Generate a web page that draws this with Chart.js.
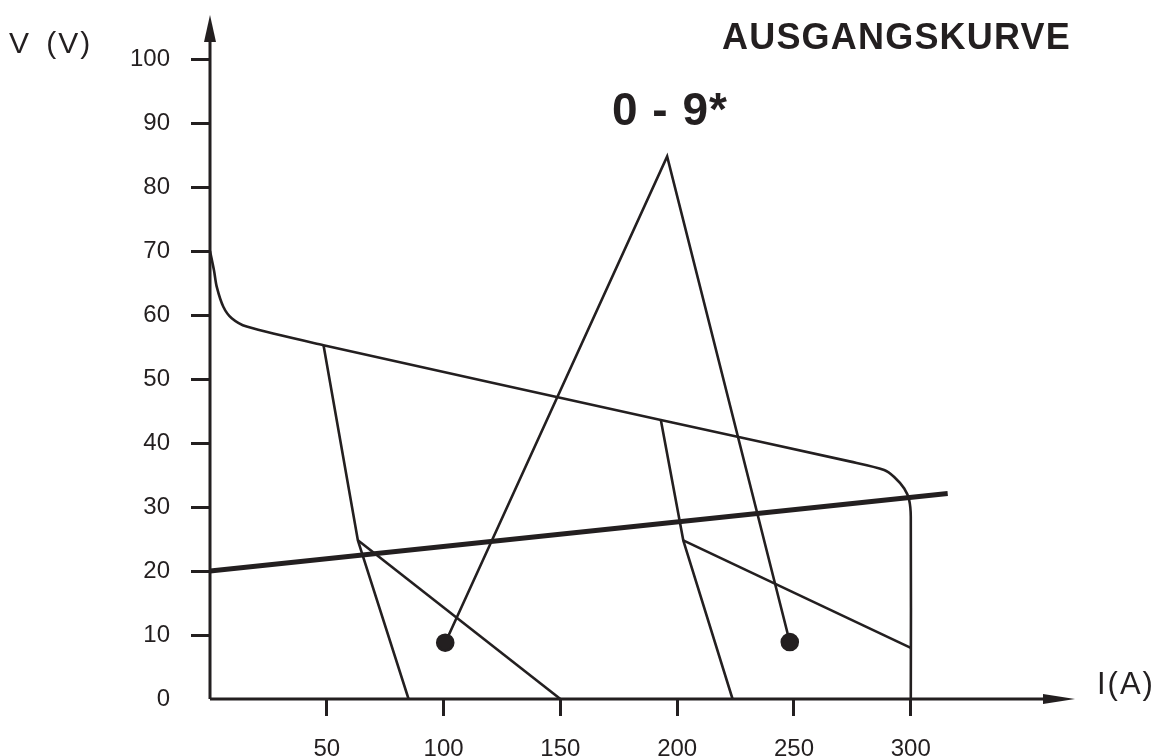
<!DOCTYPE html>
<html lang="de">
<head>
<meta charset="utf-8">
<title>Ausgangskurve</title>
<script src="https://cdn.jsdelivr.net/npm/chart.js@4.4.1/dist/chart.umd.min.js"></script>
<style>
  html, body { margin: 0; padding: 0; background: #fff; }
  #wrap { position: relative; width: 1159px; height: 756px; font-family: "Liberation Sans", Arial, sans-serif; color: #231f20; }
  #wrap canvas { position: absolute; left: 0; top: 0; }
  .lbl { position: absolute; white-space: pre; line-height: 1; }
  #yTitle { left: 9px; top: 28px; font-size: 30px; word-spacing: 5px; letter-spacing: 2px; }
  #xTitle { left: 1097px; top: 668px; font-size: 31px; letter-spacing: 2px; }
  #title { left: 722px; top: 19px; font-size: 36px; font-weight: bold; letter-spacing: 1.2px; }
  #sub { left: 612px; top: 86px; font-size: 46px; font-weight: bold; letter-spacing: 1px; }
</style>
</head>
<body>
<div id="wrap">
  <canvas id="chart" width="1159" height="756"></canvas>
  <div class="lbl" id="yTitle">V (V)</div>
  <div class="lbl" id="xTitle">I(A)</div>
  <div class="lbl" id="title">AUSGANGSKURVE</div>
  <div class="lbl" id="sub">0 - 9*</div>
</div>
<script>
const INK = "#231f20";

// ===== DATA =====
const xTicks = [50, 100, 150, 200, 250, 300];
const yTicks = [0, 10, 20, 30, 40, 50, 60, 70, 80, 90, 100];

// Hauptkennlinie (Leerlauf 70 V, Knick bei 300 A)
const kurveI = [0, 1.7, 2.9, 5.7, 9.3, 15.7, 48.6, 193, 274.3, 288.6, 292.9, 297.2, 299.3, 300, 300];
const kurveV = [70, 67, 64.4, 61.3, 59.5, 58.2, 55.3, 43.6, 37.1, 35.8, 34.7, 32.9, 31.1, 28.5, 0];

// Lastgerade (dick)
const lastI = [0, 315.8];
const lastV = [20, 32.1];

// Minimum-Stufe
const minI = [48.6, 63.3, 85];
const minV = [55.3, 24.8, 0];
const minAstI = [63.3, 150];
const minAstV = [24.8, 0];

// Maximum-Stufe
const maxI = [193, 202.6, 223.7];
const maxV = [43.6, 24.8, 0];
const maxAstI = [202.6, 300];
const maxAstV = [24.8, 8.0];

// Einstellbereich 0 - 9
const bereichI = [100.7, 195.7, 248.2];
const bereichV = [8.8, 84.8, 8.9];

const pts = (xs, ys) => xs.map((x, i) => ({ x, y: ys[i] }));

function line(xs, ys, w) {
  return {
    data: pts(xs, ys),
    showLine: true,
    borderColor: INK,
    backgroundColor: INK,
    borderWidth: w,
    pointRadius: 0,
    tension: 0,
    borderJoinStyle: "round",
    borderCapStyle: "butt"
  };
}

const kurve = line(kurveI, kurveV, 2.6);
kurve.tension = 0.3;

const bereich = line(bereichI, bereichV, 2.6);
bereich.pointRadius = [8, 0, 8];
bereich.borderJoinStyle = "miter";

// ===== ACHSEN MIT PFEILEN =====
const arrowAxes = {
  id: "arrowAxes",
  afterDatasetsDraw(chart) {
    const { ctx, chartArea: a } = chart;
    ctx.save();
    ctx.strokeStyle = INK;
    ctx.fillStyle = INK;
    ctx.lineWidth = 3;
    ctx.beginPath();
    ctx.moveTo(a.left, a.bottom);
    ctx.lineTo(a.left, a.top + 20);
    ctx.moveTo(a.left, a.bottom);
    ctx.lineTo(a.right - 20, a.bottom);
    ctx.stroke();
    // Pfeil oben
    ctx.beginPath();
    ctx.moveTo(a.left, a.top);
    ctx.lineTo(a.left - 6, a.top + 27);
    ctx.lineTo(a.left + 6, a.top + 27);
    ctx.closePath();
    ctx.fill();
    // Pfeil rechts
    ctx.beginPath();
    ctx.moveTo(a.right, a.bottom);
    ctx.lineTo(a.right - 32, a.bottom - 5);
    ctx.lineTo(a.right - 32, a.bottom + 5);
    ctx.closePath();
    ctx.fill();
    ctx.restore();
  }
};

// ===== CHART =====
new Chart(document.getElementById("chart"), {
  type: "scatter",
  data: {
    datasets: [
      kurve,
      line(lastI, lastV, 5),
      line(minI, minV, 2.6),
      line(minAstI, minAstV, 2.6),
      line(maxI, maxV, 2.6),
      line(maxAstI, maxAstV, 2.6),
      bereich
    ]
  },
  options: {
    responsive: false,
    animation: false,
    layout: { padding: { top: 15, right: 84, left: 0, bottom: 0 } },
    plugins: { legend: { display: false }, tooltip: { enabled: false } },
    scales: {
      x: {
        type: "linear",
        min: 0,
        max: 370.3,
        afterFit: s => { s.height = 57; s.paddingLeft = 0; s.paddingRight = 0; },
        afterBuildTicks: s => { s.ticks = xTicks.map(v => ({ value: v })); },
        border: { display: false },
        grid: { drawOnChartArea: false, drawTicks: true, tickLength: 17, lineWidth: 3, color: INK },
        ticks: { color: INK, padding: 19, maxRotation: 0, font: { family: "Liberation Sans", size: 24 } }
      },
      y: {
        type: "linear",
        min: 0,
        max: 106.9,
        afterFit: s => { s.width = 210; s.paddingTop = 0; s.paddingBottom = 0; },
        afterBuildTicks: s => { s.ticks = yTicks.map(v => ({ value: v })); },
        border: { display: false },
        grid: {
          drawOnChartArea: false, drawTicks: true, tickLength: 19, lineWidth: 3,
          color: c => (c.tick && c.tick.value === 0 ? "rgba(0,0,0,0)" : INK)
        },
        ticks: { color: INK, padding: 21, font: { family: "Liberation Sans", size: 24 } }
      }
    }
  },
  plugins: [arrowAxes]
});
</script>
</body>
</html>
